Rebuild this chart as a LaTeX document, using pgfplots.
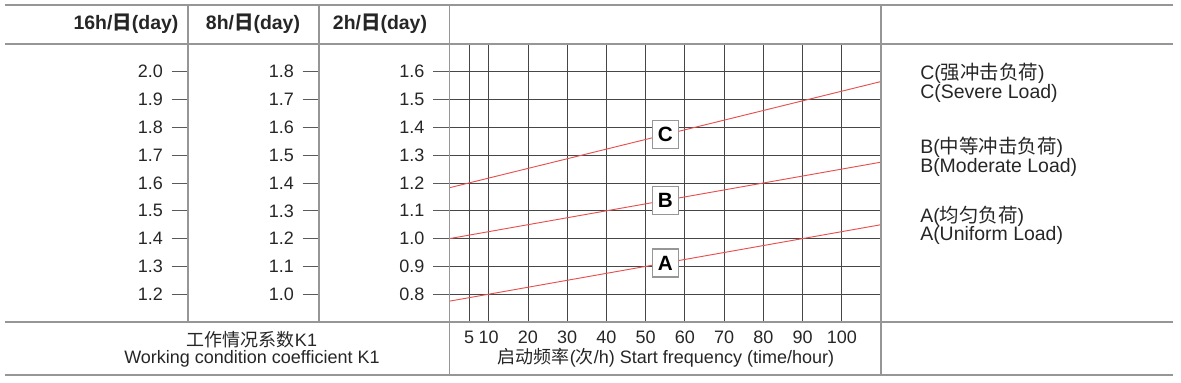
\documentclass[border=0pt]{standalone}
\usepackage{pgfplots}
\pgfplotsset{compat=1.18}
\usepackage{fontspec}
\setmainfont{Liberation Sans}
\newfontfamily\cjk{Noto Sans CJK SC}
\definecolor{tbl}{RGB}{150,150,150}
\definecolor{grd}{RGB}{70,70,70}
\definecolor{tck}{RGB}{90,90,90}
\definecolor{redline}{RGB}{232,80,80}
\newcommand\fs{\fontsize{13.5}{16}\selectfont}
\newcommand\fl{\fontsize{14.6}{16}\selectfont}
\pgfplotsset{
  kaxis/.style={
    scale only axis, anchor=south west,
    height={278*0.75pt},
    ytick pos=left,
    tick align=outside,
    major tick length={16.5*0.75pt},
    ytick style={color=tck, line width=0.6pt},
    xtick style={draw=none},
    axis line style={draw=none},
    ticklabel style={font=\fs, text=black!85},
    yticklabel style={xshift=-3pt, /pgf/number format/.cd, fixed, fixed zerofill, precision=1},
    /pgf/number format/assume math mode=true,
  }
}
\begin{document}
\begin{tikzpicture}
\path[use as bounding box] (0,0) rectangle ({1181*0.75pt},{-382*0.75pt});
% 16h axis
\begin{axis}[kaxis, at={({188*0.75pt},{-322*0.75pt})}, width=1pt,
  xmin=0, xmax=1, ymin=1.1, ymax=2.1, xtick=\empty,
  ytick={1.2,1.3,1.4,1.5,1.6,1.7,1.8,1.9,2.0}]
\end{axis}
% 8h axis
\begin{axis}[kaxis, at={({319*0.75pt},{-322*0.75pt})}, width=1pt,
  xmin=0, xmax=1, ymin=0.9, ymax=1.9, xtick=\empty,
  ytick={1.0,1.1,1.2,1.3,1.4,1.5,1.6,1.7,1.8}]
\end{axis}
% main 2h axis
\begin{axis}[kaxis, at={({449.5*0.75pt},{-322*0.75pt})},
  width={431.5*0.75pt},
  xmin=0, xmax=110, ymin=0.7, ymax=1.7,
  xtick={5,10,20,30,40,50,60,70,80,90,100},
  ytick={0.8,0.9,1.0,1.1,1.2,1.3,1.4,1.5,1.6},
  grid=major, major grid style={color=grd, line width=0.6pt},
  xticklabel style={yshift=9pt, /pgf/number format/.cd, fixed, precision=0},
  clip=false]
\addplot[redline, line width=0.7pt] coordinates {(0,1.183) (110,1.565)};
\addplot[redline, line width=0.7pt] coordinates {(0,1.000) (110,1.275)};
\addplot[redline, line width=0.7pt] coordinates {(0,0.775) (110,1.050)};
\foreach \l/\v in {C/1.374, B/1.1375, A/0.9125}{
  \edef\tmp{\noexpand\node[draw=tbl, fill=white, line width=1pt, inner sep=0pt,
    minimum width={26*0.75pt}, minimum height={28*0.75pt},
    font=\noexpand\bfseries\noexpand\fontsize{15.5}{15.5}\noexpand\selectfont]
    at (axis cs:55,\v) {\l};}\tmp
}
\end{axis}
\begin{scope}[x=0.75pt, y=-0.75pt]
\draw[tbl, line width=1.2pt] (5,5) -- (1173,5);
\draw[tbl, line width=1.2pt] (5,44) -- (1173,44);
\draw[tbl, line width=1.2pt] (5,322) -- (1173,322);
\draw[tbl, line width=1.2pt] (5,375) -- (1173,375);
\draw[tbl, line width=1.2pt] (188,5) -- (188,322);
\draw[tbl, line width=1.2pt] (319,5) -- (319,322);
\draw[tbl, line width=1.2pt] (449.5,5) -- (449.5,375);
\draw[tbl, line width=1.2pt] (881,5) -- (881,375);
\node[font=\fl\bfseries, text=black!85] at (126,24) {16h/{\cjk 日}(day)};
\node[font=\fl\bfseries, text=black!85] at (253,24) {8h/{\cjk 日}(day)};
\node[font=\fl\bfseries, text=black!85] at (380,24) {2h/{\cjk 日}(day)};
\node[font=\fs, text=black!85] at (252,340) {{\cjk 工作情况系数}K1};
\node[font=\fs, text=black!85] at (252,359) {Working condition coefficient K1};
\node[font=\fs, text=black!85] at (666,358) {{\cjk 启动频率}({\cjk 次}/h) Start frequency (time/hour)};
\node[font=\fl, text=black!85, anchor=west, inner sep=0pt] at (920,73) {C({\cjk 强冲击负荷})};
\node[font=\fl, text=black!85, anchor=west, inner sep=0pt] at (920,93) {C(Severe Load)};
\node[font=\fl, text=black!85, anchor=west, inner sep=0pt] at (920,147) {B({\cjk 中等冲击负荷})};
\node[font=\fl, text=black!85, anchor=west, inner sep=0pt] at (920,167) {B(Moderate Load)};
\node[font=\fl, text=black!85, anchor=west, inner sep=0pt] at (920,216) {A({\cjk 均匀负荷})};
\node[font=\fl, text=black!85, anchor=west, inner sep=0pt] at (920,235) {A(Uniform Load)};
\end{scope}
\end{tikzpicture}
\end{document}
